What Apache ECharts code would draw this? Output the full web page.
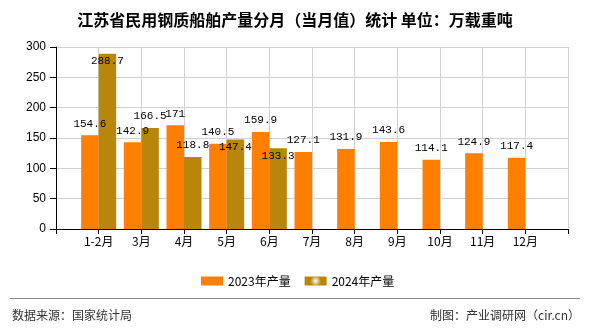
<!DOCTYPE html>
<html>
<head>
<meta charset="utf-8">
<script src="https://cdn.jsdelivr.net/npm/echarts@6/dist/echarts.min.js"></script>
<style>html,body{margin:0;padding:0;background:#fff;}#c{width:590px;height:330px;}</style>
</head>
<body>
<div id="c"></div>
<script>
const titleText = '江苏省民用钢质船舶产量分月（当月值）统计 单位：万载重吨';
const categories = ['1-2月','3月','4月','5月','6月','7月','8月','9月','10月','11月','12月'];
const names = ['2023年产量','2024年产量'];
const v2023 = [154.6,142.9,171,140.5,159.9,127.1,131.9,143.6,114.1,124.9,117.4];
const v2024 = [288.7,166.5,118.8,147.4,133.3,null,null,null,null,null,null];
const yMin = 0, yMax = 300, yStep = 50;
const sourceText = '数据来源：国家统计局';
const creditText = '制图：产业调研网（cir.cn）';

const cjk = '"Noto Sans CJK SC", "Liberation Sans", sans-serif';
const mono = '"Liberation Mono", "DejaVu Sans Mono", monospace';
const c2023 = '#FF8000', c2024 = '#B8860B';
// 2024 labels drawn inside the bar top (to avoid overlap) for these indices
const insideLabelIdx = [0, 3, 4];

const axisCats = [''].concat(categories, ['']);
function pad(arr){ return [null].concat(arr, [null]); }
const d2024 = pad(v2024).map((v, i) => {
  if (v == null) return null;
  if (insideLabelIdx.indexOf(i - 1) >= 0) {
    return { value: v, label: { position: 'insideTop', distance: 2 } };
  }
  return v;
});

const chart = echarts.init(document.getElementById('c'));
chart.setOption({
  animation: false,
  backgroundColor: '#fff',
  title: {
    text: titleText, left: 'center', top: 7,
    textStyle: { fontFamily: cjk, fontSize: 16, fontWeight: 'bold', color: '#000' }
  },
  grid: { left: 56, right: 22, top: 47, bottom: 101, containLabel: false },
  legend: {
    left: 196, top: 270, itemWidth: 22, itemHeight: 9, itemGap: 14,
    textStyle: { fontFamily: cjk, fontSize: 12, color: '#000' },
    data: [
      { name: names[0], icon: 'rect' },
      { name: names[1], icon: 'rect', itemStyle: { color: { type: 'radial', x: 0.5, y: 0.5, r: 0.6,
        colorStops: [{ offset: 0, color: '#ffffff' }, { offset: 1, color: c2024 }] } } }
    ]
  },
  xAxis: {
    type: 'category', data: axisCats, boundaryGap: false,
    axisLine: { lineStyle: { color: '#000', width: 1 } },
    axisTick: { show: true, length: 5, lineStyle: { color: '#000' } },
    axisLabel: { fontFamily: cjk, fontSize: 12, color: '#000', margin: 6, interval: 0 },
    splitLine: { show: true, lineStyle: { color: '#d0d0d0', width: 1 } }
  },
  yAxis: {
    type: 'value', min: yMin, max: yMax, interval: yStep,
    axisLine: { show: true, lineStyle: { color: '#000', width: 1 } },
    axisTick: { show: true, length: 6, lineStyle: { color: '#000' } },
    axisLabel: { fontFamily: '"Liberation Sans", sans-serif', fontSize: 12, color: '#000', margin: 10 },
    splitLine: { show: true, lineStyle: { color: '#d0d0d0', width: 1 } }
  },
  series: [
    {
      name: names[0], type: 'bar', data: pad(v2023),
      barWidth: 17.5, barGap: '0%',
      itemStyle: { color: c2023 },
      label: { show: true, position: 'top', distance: 6, fontFamily: mono, fontSize: 11, color: '#000' }
    },
    {
      name: names[1], type: 'bar', data: d2024,
      barWidth: 17.5, barGap: '0%',
      itemStyle: { color: c2024 },
      label: { show: true, position: 'top', distance: 6, fontFamily: mono, fontSize: 11, color: '#000' }
    }
  ],
  graphic: [
    { type: 'line', shape: { x1: 10, y1: 298.5, x2: 580, y2: 298.5 }, style: { stroke: '#888', lineWidth: 1 } },
    { type: 'text', left: 12, top: 309, style: { text: sourceText, font: '12px ' + cjk, fill: '#333' } },
    { type: 'text', right: 10, top: 309, style: { text: creditText, font: '12px ' + cjk, fill: '#333' } }
  ]
});
</script>
</body>
</html>
